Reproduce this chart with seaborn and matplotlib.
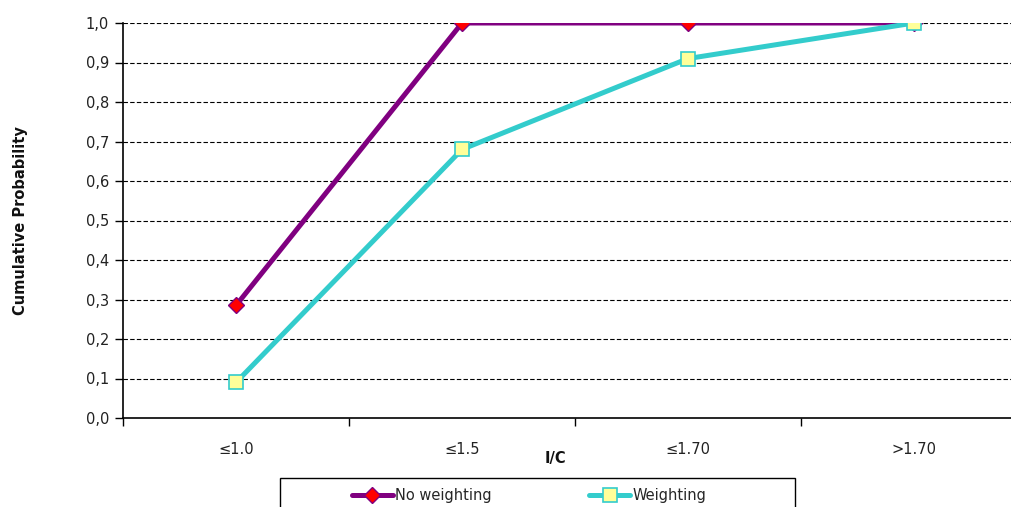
import matplotlib
matplotlib.use("Agg")
import matplotlib.pyplot as plt
import seaborn as sns
import pandas as pd
import numpy as np
from matplotlib.ticker import FixedLocator, FuncFormatter
from matplotlib.patches import Rectangle

categories = ["≤1.0", "≤1.5", "≤1.70", ">1.70"]
no_weighting = [0.285, 1.0, 1.0, 1.0]
weighting = [0.09, 0.68, 0.91, 1.0]

sns.set_theme(style="white")
plt.rcParams['font.family'] = ['DejaVu Sans']

W, H = 1012, 507
fig = plt.figure(figsize=(W/100, H/100), dpi=100)
ax = fig.add_axes([123/W, 1-418/H, 904/W, 395/H])

pos = np.arange(len(categories))
df1 = pd.DataFrame({"x": pos, "y": no_weighting})
df2 = pd.DataFrame({"x": pos, "y": weighting})

sns.lineplot(data=df1, x="x", y="y", ax=ax, color="#800080", lw=3.6,
             marker="D", markersize=8, markerfacecolor="#FF0000",
             markeredgecolor="#800080", markeredgewidth=1, label="No weighting", zorder=3)
sns.lineplot(data=df2, x="x", y="y", ax=ax, color="#33CCCC", lw=3.6,
             marker="s", markersize=9.5, markerfacecolor="#FFFF99",
             markeredgecolor="#33CCCC", markeredgewidth=1.2, label="Weighting", zorder=4)

ax.set_xlim(-0.5, 3.5)
ax.set_ylim(0, 1.0)
ax.yaxis.set_major_locator(FixedLocator(np.round(np.arange(0, 1.01, 0.1), 1)))
ax.yaxis.set_major_formatter(FuncFormatter(lambda v, p: f"{v:.1f}".replace(".", ",")))
ax.set_xticks(pos)
ax.set_xticklabels(categories)
ax.set_xticks(np.arange(-0.5, 3.6, 1.0), minor=True)
ax.tick_params(axis="x", which="major", length=0, pad=17, labelsize=10.5, colors="#222222")
ax.tick_params(axis="x", which="minor", length=6, width=1, direction="out", color="black", bottom=True)
ax.tick_params(axis="y", length=6, width=1, direction="out", color="black", left=True,
               labelsize=10.5, labelcolor="#222222", pad=4)

for v in np.arange(0.1, 1.01, 0.1):
    ax.axhline(v, color="black", lw=0.8, ls=(0, (4, 2)), zorder=1)

for s in ["top", "right"]:
    ax.spines[s].set_visible(False)
for s in ["left", "bottom"]:
    ax.spines[s].set_color("black")
    ax.spines[s].set_linewidth(1.2)

ax.set_xlabel("I/C", fontweight="bold", fontsize=10.5, color="#111111")
ax.xaxis.set_label_coords((555-123)/904, -(451-418)/395)
ax.set_ylabel("Cumulative Probability", fontweight="bold", fontsize=10.5, color="#111111")
ax.yaxis.set_label_coords(-(123-28)/904, 0.5)

handles, labels = ax.get_legend_handles_labels()
ax.get_legend().remove()
leg = fig.legend(handles, labels, loc="upper left",
                 bbox_to_anchor=(352/W, 1-488/H),
                 ncol=2, frameon=False, fontsize=10.5, handlelength=2.8,
                 handletextpad=0.15, columnspacing=6.7, borderaxespad=0, borderpad=0)
fig.patches.append(Rectangle((280/W, 1-525/H), 515/W, 47/H, transform=fig.transFigure,
                             fill=False, edgecolor="black", lw=1))

fig.savefig("out.png", dpi=100)
